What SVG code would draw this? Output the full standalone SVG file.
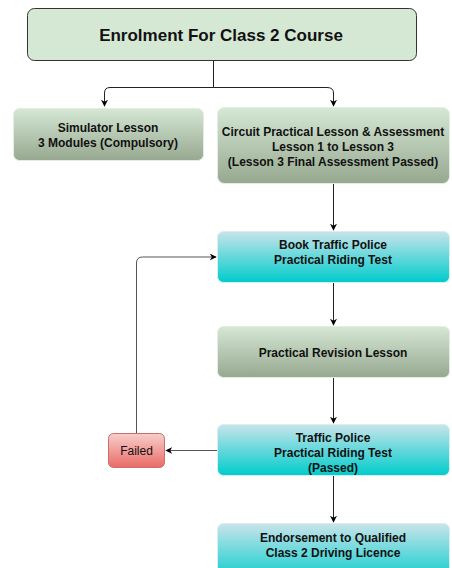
<svg xmlns="http://www.w3.org/2000/svg" width="452" height="568" viewBox="0 0 452 568">
<defs>
<linearGradient id="gGreen" x1="0" y1="0" x2="0" y2="1"><stop offset="0" stop-color="#d5e8d4"/><stop offset="1" stop-color="#97a890"/></linearGradient>
<linearGradient id="gCyan" x1="0" y1="0" x2="0" y2="1"><stop offset="0" stop-color="#c8e4ea"/><stop offset="1" stop-color="#00cccc"/></linearGradient>
<linearGradient id="gRed" x1="0" y1="0" x2="0" y2="1"><stop offset="0" stop-color="#f8cecc"/><stop offset="1" stop-color="#ea6b66"/></linearGradient>
<marker id="arr" viewBox="0 0 10 10" refX="9" refY="5" markerWidth="7" markerHeight="7" markerUnits="userSpaceOnUse" orient="auto"><path d="M0,0 L10,5 L0,10 L3,5 z" fill="#000"/></marker>
</defs>
<style>
text{font-family:"Liberation Sans",Arial,sans-serif;font-weight:bold;font-size:12px;fill:#111;text-anchor:middle}
.c{fill:none;stroke:#222;stroke-width:1}
.g{fill:none;stroke:#555;stroke-width:1}
.green{fill:url(#gGreen);stroke:#e3eee2;stroke-width:1}
.cyan{fill:url(#gCyan);stroke:#d8eef2;stroke-width:1}
</style>
<g id="connectors">
<path class="c" d="M213.5,60 V87.5 H110 Q104.5,87.5 104.5,93 V106" marker-end="url(#arr)"/>
<path class="c" d="M213.5,87.5 H327 Q333.5,87.5 333.5,93 V106" marker-end="url(#arr)"/>
<path class="c" d="M333.5,183 V230" marker-end="url(#arr)"/>
<path class="c" d="M333.5,282 V325" marker-end="url(#arr)"/>
<path class="c" d="M333.5,377 V423" marker-end="url(#arr)"/>
<path class="g" d="M217,450.5 H166" marker-end="url(#arr)"/>
<path class="g" d="M136.5,433 V263 Q136.5,257 142.5,257 H216" marker-end="url(#arr)"/>
<path class="c" d="M333.5,476 V522" marker-end="url(#arr)"/>
</g>
<g id="enrolment">
<rect x="27.5" y="8.5" width="389" height="52" rx="7" fill="#d5e8d4" stroke="#333"/>
<text x="221" y="41" style="font-size:17px">Enrolment For Class 2 Course</text>
</g>
<g id="simulator">
<rect class="green" x="13.5" y="108.5" width="190" height="52" rx="6"/>
<text x="108" y="132">Simulator Lesson</text>
<text x="108" y="147">3 Modules (Compulsory)</text>
</g>
<g id="circuit">
<rect class="green" x="217.5" y="107.5" width="232" height="76" rx="7"/>
<text x="333" y="135.5">Circuit Practical Lesson &amp; Assessment</text>
<text x="333" y="150.5">Lesson 1 to Lesson 3</text>
<text x="333" y="165.5">(Lesson 3 Final Assessment Passed)</text>
</g>
<g id="book">
<rect class="cyan" x="217.5" y="231.5" width="232" height="51" rx="6"/>
<text x="333" y="248.5">Book Traffic Police</text>
<text x="333" y="263.5">Practical Riding Test</text>
</g>
<g id="revision">
<rect class="green" x="217.5" y="326.5" width="232" height="51" rx="6"/>
<text x="333" y="356.5">Practical Revision Lesson</text>
</g>
<g id="test">
<rect class="cyan" x="217.5" y="424.5" width="232" height="51" rx="6"/>
<text x="333" y="441.5">Traffic Police</text>
<text x="333" y="456.5">Practical Riding Test</text>
<text x="333" y="471.5">(Passed)</text>
</g>
<g id="failed">
<rect x="108.5" y="433.5" width="56" height="34" rx="5" fill="url(#gRed)" stroke="#c4706c"/>
<text x="136.5" y="455" style="font-weight:normal;font-size:12px">Failed</text>
</g>
<g id="endorsement">
<rect class="cyan" x="217.5" y="523.5" width="232" height="60" rx="6"/>
<text x="333" y="541.5">Endorsement to Qualified</text>
<text x="333" y="556.5">Class 2 Driving Licence</text>
</g>
</svg>
